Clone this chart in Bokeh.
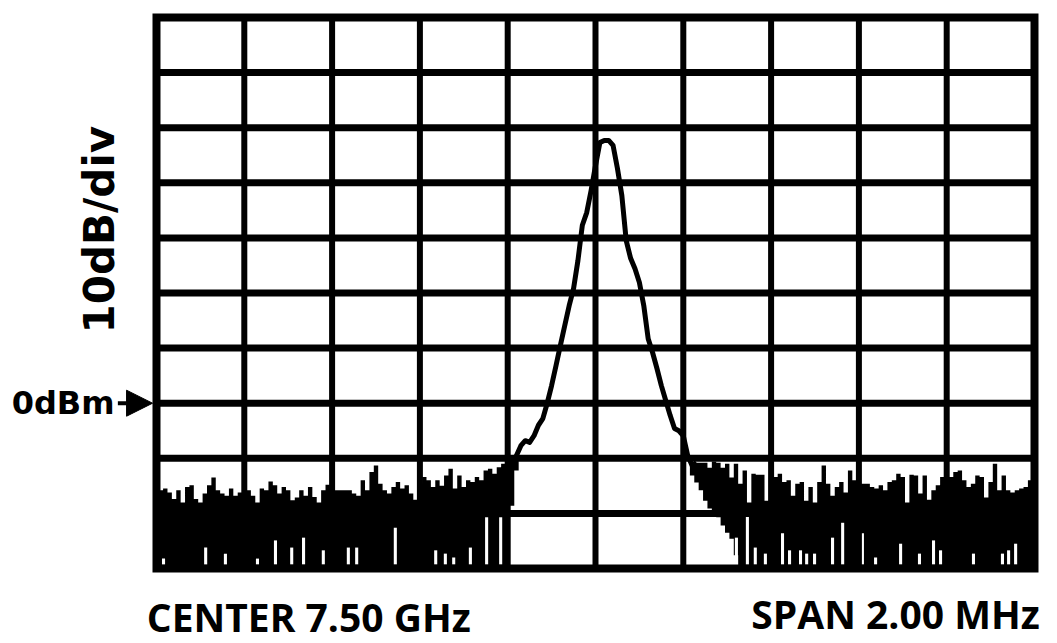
import numpy as np
from bokeh.plotting import figure
from bokeh.models import Range1d, Arrow, NormalHead
from bokeh.core.properties import value
from bokeh.embed import file_html
from bokeh.resources import INLINE

# sweep points: offset from 7.50 GHz centre, in kHz (span 2.00 MHz)
freq_khz = np.arange(-1000, 1001, 10)

# displayed trace level (top of trace), dBm
trace_db = [
    -15.5, -15.8, -15.5, -16.2, -17.4, -15.8, -18.0, -15.2, -14.9, -17.4,
    -18.0, -16.4, -14.9, -13.5, -15.8, -16.4, -16.8, -15.5, -16.8, -16.2,
    -14.6, -15.8, -16.8, -18.0, -15.5, -15.8, -14.2, -14.9, -16.4, -15.2,
    -15.8, -17.6, -17.1, -15.8, -16.8, -15.2, -17.0, -18.0, -15.8, -14.8,
    -15.5, -15.8, -15.8, -15.8, -15.8, -16.4, -16.8, -14.0, -15.8, -12.5,
    -11.3, -14.6, -15.8, -16.4, -15.2, -14.3, -15.5, -14.9, -16.4, -17.5,
    -14.6, -13.4, -14.0, -15.2, -14.0, -15.0, -13.1, -11.9, -15.5, -13.1,
    -15.2, -14.0, -14.3, -13.4, -14.0, -12.2, -11.9, -12.8, -11.6, -11.0,
    -11.3, -10.5, -9.5, -7.7, -6.8, -7.1, -5.9, -4.0, -2.8, 0.0,
    3.2, 6.8, 10.5, 14.1, 17.7, 20.8, 25.9, 32.3, 34.6, 38.6,
    43.1, 47.3, 47.7, 47.7, 46.8, 42.6, 37.7, 29.5, 26.3, 24.4,
    21.9, 17.7, 11.7, 9.2, 6.3, 3.2, 0.5, -2.2, -4.6, -5.0,
    -5.9, -9.5, -11.3, -10.8, -10.8, -10.8, -11.7, -10.6, -10.8, -11.7,
    -11.0, -13.5, -11.0, -14.6, -12.2, -18.0, -12.8, -13.0, -13.0, -17.7,
    -13.5, -13.4, -12.8, -14.3, -14.0, -16.8, -14.6, -14.3, -17.7, -15.2,
    -18.0, -14.3, -11.3, -14.6, -16.8, -15.2, -14.3, -16.2, -12.2, -14.0,
    -14.6, -14.6, -14.6, -15.2, -15.5, -14.9, -15.8, -14.3, -14.0, -12.8,
    -13.4, -18.0, -13.0, -13.1, -16.4, -13.1, -17.5, -15.8, -14.9, -13.4,
    -15.5, -13.4, -12.5, -12.2, -14.0, -15.2, -14.6, -13.1, -13.4, -17.1,
    -14.3, -11.0, -15.8, -13.1, -15.8, -16.2, -15.8, -15.5, -15.2, -14.0,
    -14.9,
]

# lower edge of the noise band around the carrier skirts, dBm
left_skirt_floor_db = [-18.6, -12.2]
right_skirt_floor_db = [-13.1, -14.4, -15.8, -17.7, -19.1, -20.0, -20.7,
                        -22.2, -23.5, -24.6, -27.6]

# white gaps inside the noise band (trace minima not reaching the bottom)
gap_khz = [-984, -888, -843, -770, -729, -692, -665, -620, -563, -544,
           -456, -364, -342, -323, -285, -248, -216,
           321, 346, 364, 387, 426, 442, 467, 481, 499,
           540, 563, 608, 638, 695, 738, 770, 786, 861, 927, 941, 957]
gap_top_db = [-28.2, -26.2, -27.3, -28.2, -24.9, -26.2, -24.4, -26.7, -26.2, -26.2,
              -22.6, -26.7, -27.3, -28.0, -26.2, -20.7, -20.7,
              -24.4, -20.0, -26.2, -27.3, -23.6, -26.7, -26.7, -27.3, -27.3,
              -24.4, -21.7, -23.6, -28.0, -25.5, -27.3, -24.9, -26.7, -27.3,
              -27.3, -26.7, -25.5]

# graticule: 10 horizontal divisions of 200 kHz, 10 vertical of 10 dB
x_div_ticks = [-800, -600, -400, -200, 0, 200, 400, 600, 800]
y_div_ticks = [-20, -10, 0, 10, 20, 30, 40, 50, 60]
x_edges = [-1000, 1000]
y_edges = [-30, 70]

ref_level_db = 0
y_label = "10dB/div"
ref_label = "0dBm"
center_label = "CENTER 7.50 GHz"
span_label = "SPAN 2.00 MHz"

floor_db = ([-30.0] * 81 + left_skirt_floor_db + trace_db[83:122]
            + right_skirt_floor_db + [-30.0] * 68)

p = figure(width=1050, height=643, title=None,
           x_range=Range1d(-1355.35, 1036.45), y_range=Range1d(-43.61, 73.09),
           x_axis_type=None, y_axis_type=None,
           toolbar_location=None, output_backend="svg",
           min_border=0)
p.background_fill_color = "white"
p.border_fill_color = "white"
p.outline_line_color = None
p.xgrid.visible = False
p.ygrid.visible = False

# trace: noise band + carrier
p.varea_step(x=freq_khz, y1=floor_db, y2=trace_db, step_mode="center",
             fill_color="black")
p.vbar(x=gap_khz, width=7, bottom=-29.3, top=gap_top_db,
       fill_color="white", line_color=None)
p.line(freq_khz[80:124], trace_db[80:124], line_width=5, line_color="black",
       line_join="round")

# graticule
p.segment(x0=x_div_ticks, y0=[y_edges[0]] * len(x_div_ticks),
          x1=x_div_ticks, y1=[y_edges[1]] * len(x_div_ticks),
          line_color="black", line_width=6)
p.segment(x0=[x_edges[0]] * len(y_div_ticks), y0=y_div_ticks,
          x1=[x_edges[1]] * len(y_div_ticks), y1=y_div_ticks,
          line_color="black", line_width=7)
p.quad(left=[x_edges[0]], right=[x_edges[1]], bottom=[y_edges[0]], top=[y_edges[1]],
       fill_color=None, line_color="black", line_width=8, line_join="miter")

# texts
p.text(x=[-1130], y=[31.5], text=[y_label], angle=np.pi / 2,
       text_align="center", text_baseline="middle",
       text_font=value("DejaVu Sans"), text_font_style="bold",
       text_font_size=value("42px"), text_color="black")
p.text(x=[-1330], y=[ref_level_db], text=[ref_label], text_align="left",
       text_baseline="middle", text_font=value("DejaVu Sans"),
       text_font_style="bold", text_font_size=value("32px"), text_color="black")
p.add_layout(Arrow(end=NormalHead(size=26, fill_color="black", line_color="black"),
                   x_start=-1088, y_start=ref_level_db, x_end=-1009, y_end=ref_level_db,
                   line_width=4, line_color="black"))
p.text(x=[-1022], y=[-38.71], text=[center_label], text_align="left",
       text_baseline="middle", text_font=value("Open Sans"),
       text_font_style="bold", text_font_size=value("39px"), text_color="black")
p.text(x=[1012], y=[-38.17], text=[span_label], text_align="right",
       text_baseline="middle", text_font=value("Open Sans"),
       text_font_style="bold", text_font_size=value("39px"), text_color="black")

open("out.html", "w").write(file_html(p, INLINE))
